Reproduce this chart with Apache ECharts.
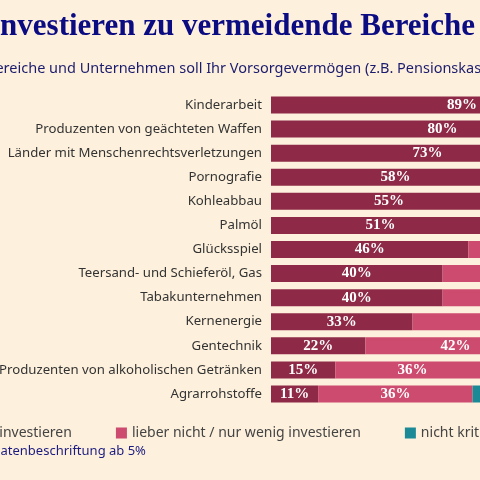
<!DOCTYPE html>
<html><head><meta charset="utf-8">
<script src="https://cdn.jsdelivr.net/npm/echarts@6/dist/echarts.min.js"></script>
<style>html,body{margin:0;padding:0;background:#fdf0dc;overflow:hidden}#c{width:760px;height:480px}</style>
</head><body><div id="c"></div>
<script>
const categories = ['Kinderarbeit', 'Produzenten von geächteten Waffen', 'Länder mit Menschenrechtsverletzungen',
  'Pornografie', 'Kohleabbau', 'Palmöl', 'Glücksspiel', 'Teersand- und Schieferöl, Gas', 'Tabakunternehmen',
  'Kernenergie', 'Gentechnik', 'Produzenten von alkoholischen Getränken', 'Agrarrohstoffe'];
const seriesNames = ['nicht investieren', 'lieber nicht / nur wenig investieren', 'nicht kritisch'];
const strong = [89, 80, 73, 58, 55, 51, 46, 40, 40, 33, 22, 15, 11];
const weak = [8, 14, 20, 30, 35, 38, 40, 45, 43, 40, 42, 36, 36];
const none = [3, 6, 7, 12, 10, 11, 14, 15, 17, 27, 36, 49, 53];
const colors = ['#8e2a47', '#cc4b6e', '#1b8a96'];

const chart = echarts.init(document.getElementById('c'));
const lbl = {
  show: true, color: '#fff', fontFamily: 'Liberation Serif', fontWeight: 'bold', fontSize: 15,
  formatter: p => p.value >= 5 ? p.value + '%' : ''
};
chart.setOption({
  backgroundColor: '#fdf0dc',
  animation: false,
  graphic: [
    { type: 'text', left: -12, top: 11, style: { text: 'Investieren zu vermeidende Bereiche', fill: '#0b0b82',
      font: 'bold 31px "Liberation Serif"' } },
    { type: 'text', left: -14, top: 61, style: { text: 'Bereiche und Unternehmen soll Ihr Vorsorgevermögen (z.B. Pensionskasse) meiden?', fill: '#1c1c6e',
      font: '14.5px "Noto Sans"' } },
    { type: 'text', left: -9, top: 445, style: { text: 'Datenbeschriftung ab 5%', fill: '#1c1c80',
      font: '13px "Noto Sans"' } }
  ],
  legend: {
    left: -58, top: 421, itemWidth: 11, itemHeight: 11, itemGap: 44, icon: 'rect',
    textStyle: { color: '#444', fontSize: 14, fontFamily: 'Noto Sans' },
    data: seriesNames
  },
  grid: { left: 271, right: 60, top: 93, bottom: 74, containLabel: false, outerBoundsMode: 'none' },
  xAxis: { type: 'value', min: 0, max: 100, show: false },
  yAxis: {
    type: 'category', data: categories, inverse: true,
    axisLine: { show: false }, axisTick: { show: false },
    axisLabel: { color: '#333', fontSize: 13.2, fontFamily: 'Noto Sans', margin: 9 }
  },
  series: [strong, weak, none].map((d, i) => ({
    name: seriesNames[i], type: 'bar', stack: 'a', data: d, barWidth: 17,
    itemStyle: { color: colors[i] }, label: lbl
  }))
});
</script></body></html>
